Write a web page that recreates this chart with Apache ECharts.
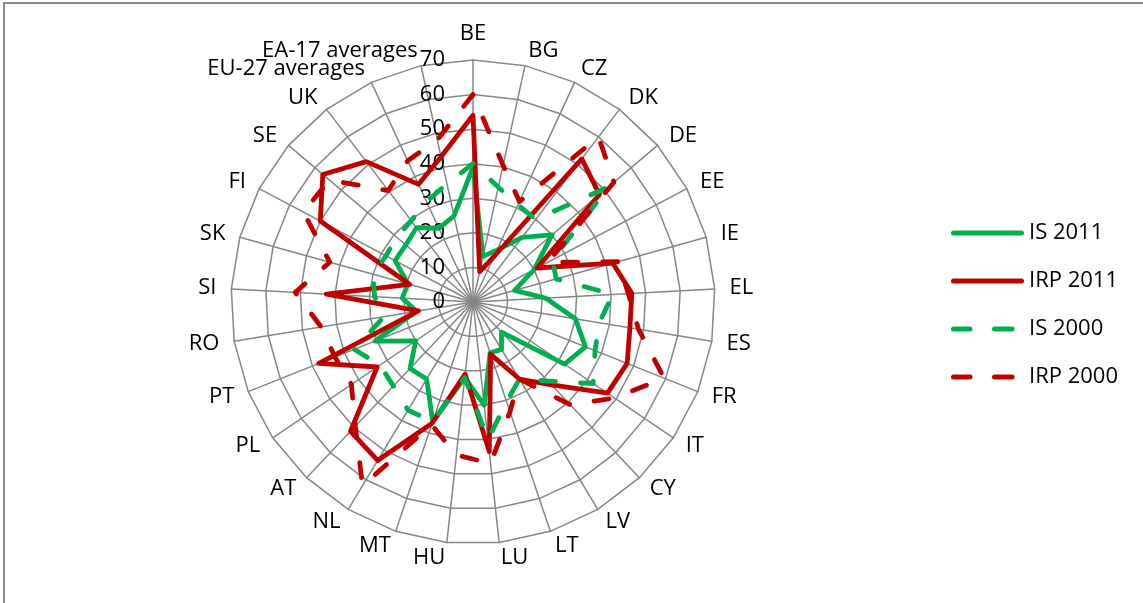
<!DOCTYPE html>
<html><head><meta charset="utf-8">
<script src="https://cdn.jsdelivr.net/npm/echarts@6/dist/echarts.min.js"></script>
<style>
html,body{margin:0;padding:0;background:#fff;width:1143px;height:603px;overflow:hidden;}
#frame{position:absolute;left:3px;top:2px;width:1300px;height:700px;border-left:2px solid #8c8c8c;border-top:2px solid #8c8c8c;}
#chart{position:absolute;left:0;top:0;width:1143px;height:603px;}
</style></head>
<body><div id="frame"></div><div id="chart"></div>
<script>
const categories = ['BE','BG','CZ','DK','DE','EE','IE','EL','ES','FR','IT','CY','LV','LT','LU','HU','MT','NL','AT','PL','PT','RO','SI','SK','FI','SE','UK','EU-27 averages','EA-17 averages'];
const is2011  = [39, 13.5, 16.5, 23.5, 30, 20, 12.5, 21, 30, 35, 32, 12, 16, 15.5, 30, 22, 36.5, 26, 26.5, 20, 30.5, 16.5, 20.5, 19.5, 25.5, 25.5, 27, 23.5, 25.5];
const irp2011 = [54, 9, 14.5, 52, 48, 21, 42, 46, 46, 48, 47, 33, 26, 16, 43.5, 21, 37, 53.5, 51.5, 33.5, 48, 16, 42.5, 19, 50, 57, 51, 37.5, 43];
const is2000  = [40, 34, 31, 30, 51.5, 26, 25, 40.5, 37, 38, 42, 31.5, 26, 30.5, 40, 22, 36.5, 36.5, 33.5, 32.5, 37, 26, 28.5, 30, 28.5, 29, 29.5, 32, 35];
const irp2000 = [60, 40.5, 32, 60, 53.5, 24.5, 43.5, 45, 48.5, 59.5, 49.5, 41, 26, 33.5, 47, 44.5, 37.5, 62, 49.5, 42.5, 43, 44.5, 51.5, 43, 55.5, 54.5, 40.5, 45, 48];
const seriesNames = ['IS 2011', 'IRP 2011', 'IS 2000', 'IRP 2000'];
const axisMin = 0, axisMax = 70, axisStep = 10;

const GREEN = '#00B050', RED = '#C00000', GRID = '#868686';
const FONT = 'Open Sans';
const FS = 22;

// ECharts radar runs counter-clockwise; reorder so that the categories run clockwise from the top
const n = categories.length;
const order = [0];
for (let i = n - 1; i >= 1; i--) order.push(i);
const reorder = arr => order.map(i => arr[i]);

const indicator = order.map((idx, k) => {
  const o = { name: categories[idx], min: axisMin, max: axisMax };
  if (k === 0) {
    o.axisLabel = { show: true, margin: 28, fontSize: FS, color: '#000', fontFamily: FONT, padding: [9, 0, 0, 0], showMinLabel: true, showMaxLabel: true };
  }
  return o;
});

const solidIcon = 'path://M2.5,0H70.5A2.5,2.5 0 0 1 70.5,5H2.5A2.5,2.5 0 0 1 2.5,0Z';
const dashIcon = 'path://M2.5,0H19A2.5,2.5 0 0 1 19,5H2.5A2.5,2.5 0 0 1 2.5,0Z M43.5,0H61A2.5,2.5 0 0 1 61,5H43.5A2.5,2.5 0 0 1 43.5,0Z M73,0L73,5L73,5Z';

const dash = [15, 25];
const values = [is2011, irp2011, is2000, irp2000];
const colors = [GREEN, RED, GREEN, RED];
const types = ['solid', 'solid', dash, dash];

const series = seriesNames.map((name, i) => ({
  type: 'radar',
  name: name,
  symbol: 'none',
  silent: true,
  color: colors[i],
  lineStyle: { color: colors[i], width: 4.8, type: types[i], cap: 'round', join: 'round' },
  itemStyle: { color: colors[i] },
  data: [{ name: name, value: reorder(values[i]) }]
}));

const chart = echarts.init(document.getElementById('chart'), null, { renderer: 'canvas' });
chart.setOption({
  animation: false,
  textStyle: { fontFamily: FONT },
  legend: {
    orient: 'vertical',
    left: 946,
    top: 217,
    itemWidth: 73,
    itemHeight: 5,
    itemGap: 26,
    textStyle: { fontSize: FS, color: '#000', fontFamily: FONT },
    data: seriesNames.map((name, i) => ({ name: name, icon: i < 2 ? solidIcon : dashIcon, itemStyle: { color: colors[i] } }))
  },
  radar: {
    center: [473, 302],
    radius: 242,
    startAngle: 90,
    shape: 'polygon',
    splitNumber: (axisMax - axisMin) / axisStep,
    nameGap: 15,
    axisName: { color: '#000', fontSize: FS, fontFamily: FONT },
    axisLine: { lineStyle: { color: GRID, width: 1.5 } },
    splitLine: { lineStyle: { color: GRID, width: 1.5 } },
    splitArea: { show: false },
    axisTick: { show: false },
    indicator: indicator
  },
  series: series
});
</script>
</body></html>
